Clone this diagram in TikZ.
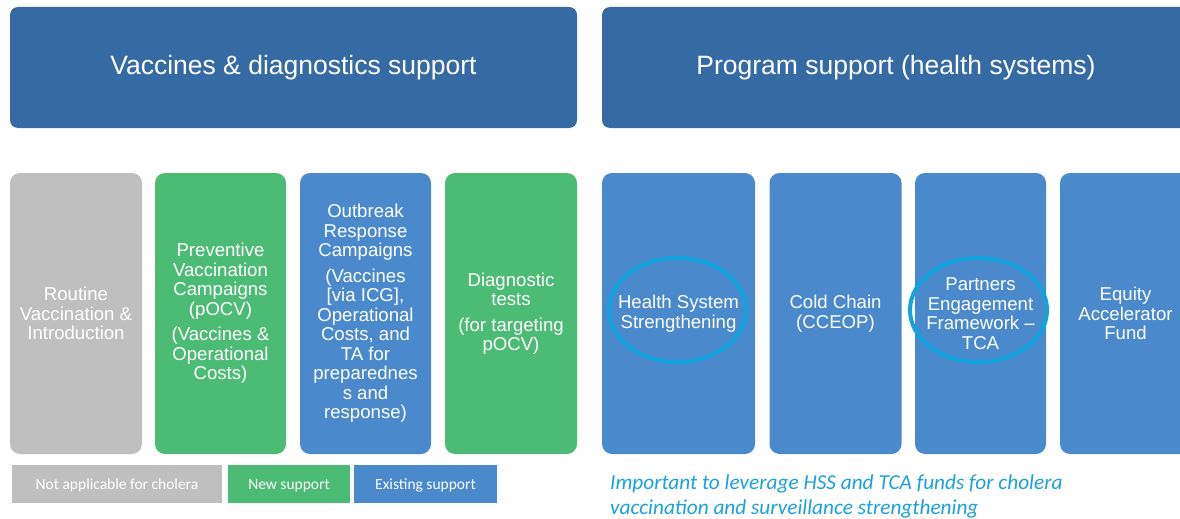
\documentclass[tikz,border=0pt]{standalone}
\usepackage{fontspec}
\setmainfont{Liberation Sans}
\newfontfamily\calib{Carlito}
\usetikzlibrary{shapes.geometric}
\definecolor{hdrblue}{RGB}{54,106,164}
\definecolor{boxblue}{RGB}{74,137,203}
\definecolor{boxgreen}{RGB}{76,187,115}
\definecolor{boxgray}{RGB}{191,191,191}
\definecolor{ringcyan}{RGB}{16,163,222}
\definecolor{notecyan}{RGB}{27,161,219}
\tikzset{
  header/.style={fill=hdrblue, rounded corners=8pt, inner sep=0pt, text=white,
    font=\fontsize{26.5}{30}\selectfont, minimum height=121pt},
  col/.style={rounded corners=10pt, inner sep=0pt, text=white, align=center,
    font=\fontsize{18.6}{19.5}\selectfont, minimum height=281pt},
  legend/.style={inner sep=0pt, text=white, font=\calib\fontsize{15.5}{18}\selectfont,
    minimum height=38pt, text depth=0pt, text height=11pt},
  ring/.style={ellipse, draw=ringcyan, line width=4pt, inner sep=0pt,
    minimum width=137pt, minimum height=104pt},
  note/.style={anchor=base west, inner sep=0pt, text=notecyan,
    font=\calib\itshape\fontsize{21.3}{25.5}\selectfont}
}
\begin{document}
\begin{tikzpicture}[x=1pt,y=-1pt]
\useasboundingbox (0,0) rectangle (1180,519);
\clip (0,0) rectangle (1180,519);
\fill[white] (0,0) rectangle (1180,519);
% headers
\node[header, minimum width=567pt] (h1) at (293.5,67.5) {Vaccines \& diagnostics support};
\node[header, minimum width=588pt] (h2) at (896,67.5) {Program support (health systems)};
% left columns
\node[col, fill=boxgray, minimum width=132pt] (c1) at (76,313.5)
  {Routine\\Vaccination \&\\Introduction};
\node[col, fill=boxgreen, minimum width=131pt] (c2) at (220.5,313.5)
  {Preventive\\Vaccination\\Campaigns\\(pOCV)\\[6pt](Vaccines \&\\Operational\\Costs)};
\node[col, fill=boxblue, minimum width=131pt] (c3) at (365.5,313.5)
  {Outbreak\\Response\\Campaigns\\[6pt](Vaccines\\{}[via ICG],\\Operational\\Costs, and\\TA for\\preparednes\\s and\\response)};
\node[col, fill=boxgreen, minimum width=132pt] (c4) at (511,313.5)
  {Diagnostic\\tests\\[6pt](for targeting\\pOCV)};
% right columns
\node[col, fill=boxblue, minimum width=153pt] (r1) at (678.5,313.5)
  {Health System\\Strengthening};
\node[col, fill=boxblue, minimum width=132pt] (r2) at (835.5,313.5)
  {Cold Chain\\(CCEOP)};
\node[col, fill=boxblue, minimum width=131pt] (r3) at (980.5,313.5)
  {Partners\\Engagement\\Framework --\\TCA};
\node[col, fill=boxblue, minimum width=131pt] (r4) at (1125.5,313.5)
  {Equity\\Accelerator\\Fund};
% highlight rings
\node[ring] (ring1) at (677.5,310) {};
\node[ring] (ring2) at (978.5,310) {};
% legend
\node[legend, fill=boxgray, minimum width=210pt] (lg1) at (117,484) {Not applicable for cholera};
\node[legend, fill=boxgreen, minimum width=122pt] (lg2) at (289,484) {New support};
\node[legend, fill=boxblue, minimum width=143pt] (lg3) at (425.5,484) {Existing support};
% note
\node[note] (note1) at (610,489) {Important to leverage HSS and TCA funds for cholera};
\node[note] (note2) at (610,514) {vaccination and surveillance strengthening};
\end{tikzpicture}
\end{document}
